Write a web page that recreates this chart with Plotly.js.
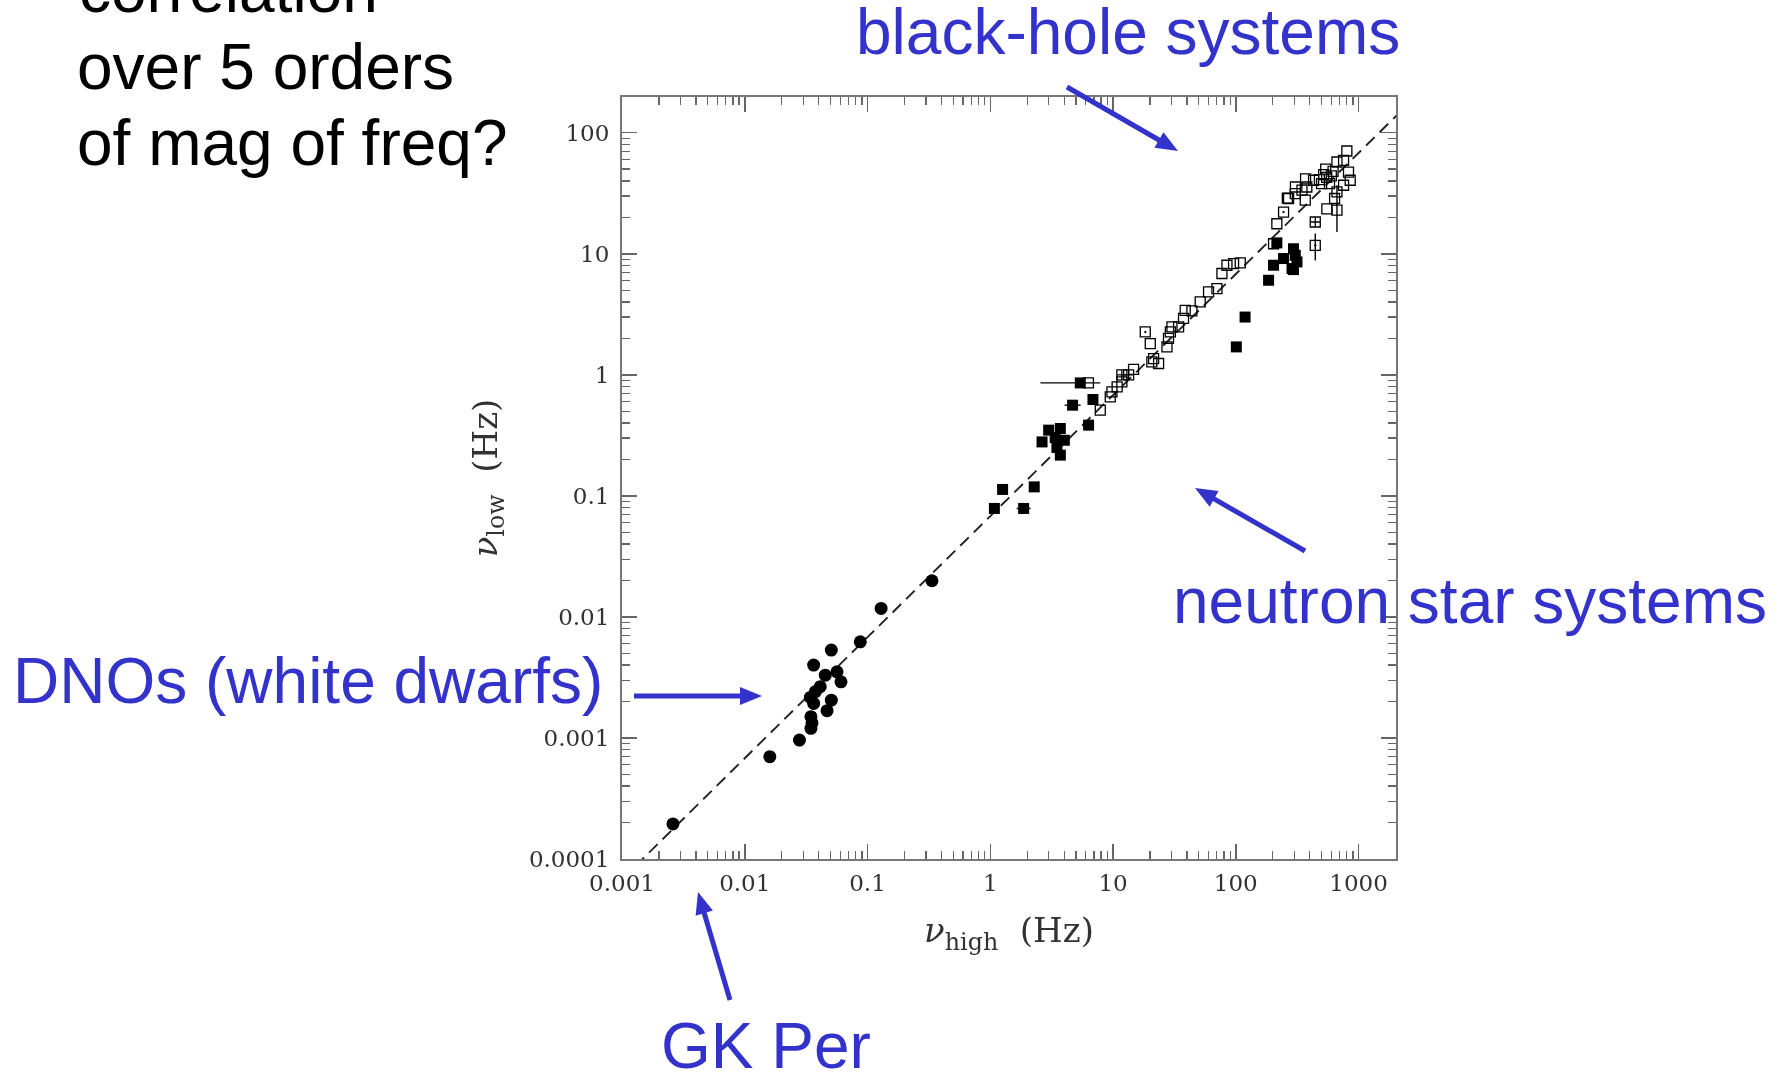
<!DOCTYPE html>
<html>
<head>
<meta charset="utf-8">
<script src="https://cdn.plot.ly/plotly-3.0.1.min.js"></script>
<style>
  html, body { margin: 0; padding: 0; background: #fff; }
  #chart { width: 1781px; height: 1077px; }
</style>
</head>
<body>
<div id="chart"></div>
<script>
// Low- vs high-frequency QPO correlation (Hz), log-log.

// Dwarf-nova oscillations (white dwarfs), filled circles
const dnoHigh = [0.0026, 0.016, 0.0279, 0.0346, 0.0353, 0.0346, 0.0468, 0.0364, 0.0507, 0.0342,
                 0.0376, 0.0412, 0.0608, 0.0453, 0.0564, 0.0364, 0.0507, 0.0873, 0.129, 0.335];
const dnoLow  = [0.000195, 0.0007, 0.00096, 0.0012, 0.00133, 0.0015, 0.00168, 0.00193, 0.00205, 0.00216,
                 0.00241, 0.00265, 0.00291, 0.0033, 0.00352, 0.0040, 0.00532, 0.00622, 0.01175, 0.0199];

// Filled squares
const filledHigh = [1.08, 1.26, 2.28, 2.64, 2.99, 3.72, 3.38, 4.01, 3.49, 3.72, 6.32, 6.86,
                    101, 119, 185, 203, 216, 245, 287, 295, 305, 315, 295];
const filledLow  = [0.0787, 0.113, 0.1186, 0.279, 0.349, 0.360, 0.303, 0.288, 0.251, 0.217, 0.384, 0.625,
                    1.70, 3.0, 6.04, 8.04, 12.3, 9.13, 7.54, 11.0, 9.72, 8.56, 7.40];

// Filled squares carrying horizontal error bars
const filledErrHigh  = [1.87, 4.68, 5.41];
const filledErrLow   = [0.0787, 0.561, 0.857];
const filledErrPlus  = [0.26, 0.76, 2.46];
const filledErrMinus = [0.23, 0.65, 2.85];

// Open squares
const openHigh = [6.3, 7.87, 9.49, 9.8, 10.8, 11.8, 14.7, 20.7, 23.5, 21.4, 20.1, 27.5, 28.3, 29.3,
                  30.2, 34.2, 37.5, 38.7, 43.9, 51.3, 60.0, 70.2, 77.1, 84.7, 95.9, 108.7, 203, 216,
                  269, 305, 346, 379, 368, 430, 480, 500, 520, 550, 580, 600, 620, 540, 552, 638,
                  667, 755, 855, 828, 667, 755, 803, 263, 306, 370];
const openLow  = [0.857, 0.511, 0.656, 0.722, 0.795, 0.874, 1.11, 1.28, 1.24, 1.36, 1.81, 1.70, 2.0, 2.26,
                  2.49, 2.49, 2.92, 3.41, 3.37, 4.0, 4.84, 5.16, 6.87, 8.04, 8.30, 8.40, 12.1, 17.7,
                  28.6, 31.4, 33.5, 35.6, 27.7, 40.5, 41, 38, 45, 42.7, 38, 44, 48, 50, 23.5, 28.6,
                  32.5, 36.8, 40.5, 47.3, 57.3, 59.1, 70.6, 28.8, 35.6, 41.6];

// Open squares with a central dot
const openDotHigh = [18.3, 245, 444];
const openDotLow  = [2.26, 22.1, 11.75];
const openDotErrPlus  = [0, 0, 2.95];
const openDotErrMinus = [0, 0, 2.95];

// Open squares with a cross
const openCrossHigh = [11.8, 13.4, 444];
const openCrossLow  = [1.0, 1.0, 18.3];

// Open square with a vertical error bar
const openErrHigh  = [667];
const openErrLow   = [22.9];
const openErrPlus  = [13.9];
const openErrMinus = [7.8];

// Reference relation  nu_low = k * nu_high
const ratioK = 0.068;
const relHigh = [0.001, 3000];
const relLow  = relHigh.map(v => ratioK * v);

// Axis ticks
const xTickVals = [0.001, 0.01, 0.1, 1, 10, 100, 1000];
const xTickText = ['0.001', '0.01', '0.1', '1', '10', '100', '1000'];
const yTickVals = [0.0001, 0.001, 0.01, 0.1, 1, 10, 100];
const yTickText = ['0.0001', '0.001', '0.01', '0.1', '1', '10', '100'];

// ---- geometry helpers (figure pixels -> paper fractions)
const FIG_W = 1781, FIG_H = 1077;
const M = { l: 622, r: 385, t: 97, b: 218 };
const PW = FIG_W - M.l - M.r, PH = FIG_H - M.t - M.b;
const px = x => (x - M.l) / PW;
const py = y => (FIG_H - M.b - y) / PH;

function minorVals(lo, hi) {
  const out = [];
  for (let d = lo; d <= hi; d++) for (let k = 2; k <= 9; k++) out.push(k * Math.pow(10, d));
  return out;
}

const ink = '#000';
const sqOpen = { color: ink, size: 10, line: { color: ink, width: 1.3 } };

const traces = [
  { x: relHigh, y: relLow, mode: 'lines', name: 'relation',
    line: { color: '#222', width: 1.9, dash: '12px,7px' }, hoverinfo: 'skip' },
  { x: dnoHigh, y: dnoLow, mode: 'markers', name: 'DNOs',
    marker: { symbol: 'circle', size: 13, color: ink } },
  { x: filledHigh, y: filledLow, mode: 'markers', name: 'filled squares',
    marker: { symbol: 'square', size: 11, color: ink } },
  { x: filledErrHigh, y: filledErrLow, mode: 'markers', name: 'filled squares (err)',
    marker: { symbol: 'square', size: 11, color: ink },
    error_x: { type: 'data', symmetric: false, array: filledErrPlus, arrayminus: filledErrMinus,
               color: ink, thickness: 1.4, width: 0 } },
  { x: openHigh, y: openLow, mode: 'markers', name: 'open squares',
    marker: Object.assign({ symbol: 'square-open' }, sqOpen) },
  { x: openDotHigh, y: openDotLow, mode: 'markers', name: 'open squares (dot)',
    marker: Object.assign({ symbol: 'square-open-dot' }, sqOpen),
    error_y: { type: 'data', symmetric: false, array: openDotErrPlus, arrayminus: openDotErrMinus,
               color: ink, thickness: 1.4, width: 0 } },
  { x: openCrossHigh, y: openCrossLow, mode: 'markers', name: 'open squares (cross)',
    marker: Object.assign({ symbol: 'square-cross-open' }, sqOpen) },
  { x: openErrHigh, y: openErrLow, mode: 'markers', name: 'open squares (err)',
    marker: Object.assign({ symbol: 'square-open' }, sqOpen),
    error_y: { type: 'data', symmetric: false, array: openErrPlus, arrayminus: openErrMinus,
               color: ink, thickness: 1.4, width: 0 } }
];

const axisCommon = {
  type: 'log', showgrid: false, zeroline: false,
  showline: true, linecolor: '#777', linewidth: 2, mirror: 'allticks',
  ticks: 'inside', ticklen: 15, tickwidth: 1.5, tickcolor: '#666',
  tickmode: 'array',
  tickfont: { family: 'DejaVu Serif', size: 23, color: '#333' }
};

const serifTitle = { family: 'DejaVu Serif', size: 34, color: '#333' };
const sans = 'Liberation Sans, Arial, sans-serif';
const blue = '#3333cc';

function label(text, xPix, yMid, color) {
  return { text, xref: 'paper', yref: 'paper', x: px(xPix), y: py(yMid),
           xanchor: 'left', yanchor: 'middle', showarrow: false,
           font: { family: sans, size: 64, color } };
}

// Arrow = thick shaft + filled triangular head, built in pixel space
function arrowShapes(tailX, tailY, tipX, tipY) {
  const headLen = 22, headHalf = 9;
  const dx = tipX - tailX, dy = tipY - tailY, len = Math.hypot(dx, dy);
  const ux = dx / len, uy = dy / len, nx = -uy, ny = ux;
  const bx = tipX - ux * headLen, by = tipY - uy * headLen;
  const pt = (x, y) => px(x) + ',' + py(y);
  return [
    { type: 'line', xref: 'paper', yref: 'paper',
      x0: px(tailX), y0: py(tailY), x1: px(bx + ux * 2), y1: py(by + uy * 2),
      line: { color: blue, width: 5 } },
    { type: 'path', xref: 'paper', yref: 'paper',
      path: 'M' + pt(tipX, tipY) + 'L' + pt(bx + nx * headHalf, by + ny * headHalf) +
            'L' + pt(bx - nx * headHalf, by - ny * headHalf) + 'Z',
      fillcolor: blue, line: { color: blue, width: 0 } }
  ];
}

const layout = {
  width: FIG_W, height: FIG_H,
  margin: M,
  paper_bgcolor: '#fff', plot_bgcolor: '#fff',
  showlegend: false,
  xaxis: Object.assign({}, axisCommon, {
    range: [-3, 3.305], tickvals: xTickVals, ticktext: xTickText, ticklabelstandoff: 2,
    minor: { tickvals: minorVals(-3, 3), ticks: 'inside', ticklen: 8, tickwidth: 1.3, tickcolor: '#666' },
    title: { text: '<i>ν</i><sub>high</sub>  (Hz)', font: serifTitle, standoff: 24 }
  }),
  yaxis: Object.assign({}, axisCommon, {
    range: [-4, 2.295], tickvals: yTickVals, ticktext: yTickText, ticklabelstandoff: 6,
    minor: { tickvals: minorVals(-4, 2), ticks: 'inside', ticklen: 8, tickwidth: 1.3, tickcolor: '#666' },
    title: { text: '<i>ν</i><sub>low</sub>  (Hz)', font: serifTitle, standoff: 21 }
  }),
  annotations: [
    label('correlation', 77, -10, '#000'),
    label('over 5 orders', 75, 67, '#000'),
    label('of mag of freq?', 75, 143, '#000'),
    label('black-hole systems', 854, 32, blue),
    label('neutron star systems', 1171, 601, blue),
    label('DNOs (white dwarfs)', 11, 681, blue),
    label('GK Per', 659, 1046, blue)
  ],
  shapes: [].concat(
    arrowShapes(1067, 87, 1178, 151),
    arrowShapes(1305, 551, 1195, 488),
    arrowShapes(634, 696, 762, 696),
    arrowShapes(730, 1000, 698, 892)
  )
};

Plotly.newPlot('chart', traces, layout, { staticPlot: true, displayModeBar: false }).then(gd => {
  // The plotted panel is a soft, slightly blurred figure: soften only its layers.
  const svg = gd.querySelector('svg.main-svg');
  const NS = 'http://www.w3.org/2000/svg';
  let defs = svg.querySelector('defs');
  if (!defs) { defs = document.createElementNS(NS, 'defs'); svg.insertBefore(defs, svg.firstChild); }
  const f = document.createElementNS(NS, 'filter');
  f.setAttribute('id', 'panelSoft');
  f.setAttribute('x', '-5%'); f.setAttribute('y', '-5%');
  f.setAttribute('width', '110%'); f.setAttribute('height', '110%');
  const g = document.createElementNS(NS, 'feGaussianBlur');
  g.setAttribute('stdDeviation', '0.55');
  f.appendChild(g); defs.appendChild(f);
  gd.querySelectorAll('.cartesianlayer, .g-xtitle, .g-ytitle').forEach(el => el.setAttribute('filter', 'url(#panelSoft)'));
});
</script>
</body>
</html>
